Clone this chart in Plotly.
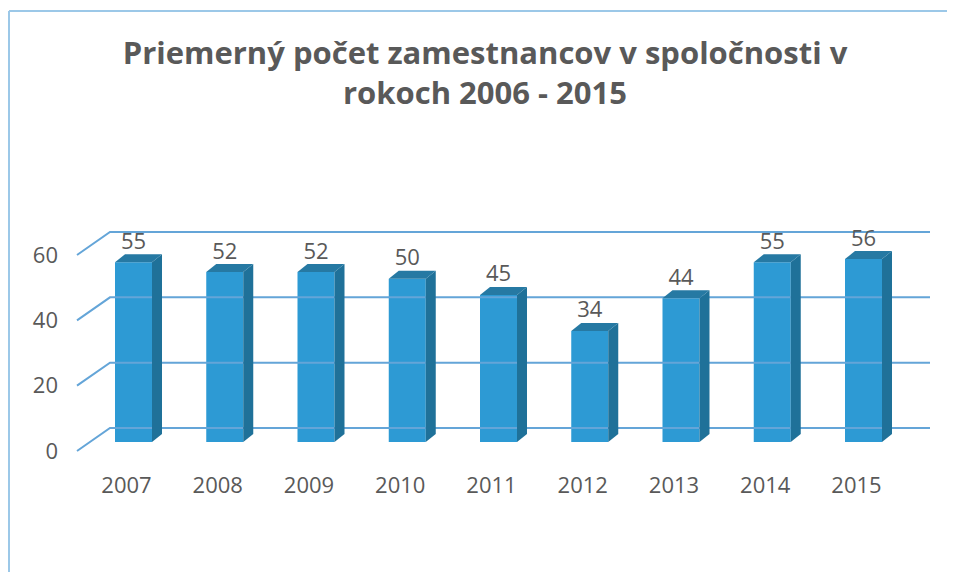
import plotly.graph_objects as go

# ---- data ----
years = ["2007", "2008", "2009", "2010", "2011", "2012", "2013", "2014", "2015"]
employees = [55, 52, 52, 50, 45, 34, 44, 55, 56]
y_ticks = [0, 20, 40, 60]
title_text = "Priemerný počet zamestnancov v spoločnosti v<br>rokoch 2006 - 2015"

# ---- pseudo-3D geometry ----
OFF = 8                          # page body margin
W, H = 955 - OFF, 580 - 2 * OFF  # figure size (no page overflow)
ML, MR, MT, MB = 62, 8, 192, 102
PW, PH = W - ML - MR, H - MT - MB
px_x = 91.25   # pixels per category
px_y = 3.267   # pixels per value unit
x0_px = 133.5 - OFF  # fig pixel of first category centre
y0_px = 451 - OFF    # fig pixel of value 0 on the front edge

xr_min = (ML - x0_px) / px_x
xr_max = (W - MR - x0_px) / px_x
yr_min = -(H - MB - y0_px) / px_y
yr_max = (y0_px - MT) / px_y

bar_w = 37 / px_x
bar_base = 9 / px_y
dx = 10 / px_x
dy = 8 / px_y
wall_dy = 23 / px_y
wall_left = (77 - OFF - x0_px) / px_x
wall_back = (110 - OFF - x0_px) / px_x
wall_right = (930 - OFF - x0_px) / px_x

FRONT = "#2D9AD4"
SIDE = "#1F7199"
TOP = "#2679A3"
GRID = "#64A5D8"
TXT = "#595959"
BORDER = "#9CC8E8"
FONT = "Open Sans"

xs = list(range(len(years)))
fig = go.Figure()

# gridlines (diagonal on the side wall + horizontal on back wall)
gx, gy = [], []
for t in y_ticks:
    gx += [wall_left, wall_back, wall_right, None]
    gy += [t, t + wall_dy, t + wall_dy, None]
fig.add_trace(go.Scatter(x=gx, y=gy, mode="lines", line=dict(color=GRID, width=2),
                         hoverinfo="skip", showlegend=False))

# front faces
fig.add_trace(go.Bar(x=xs, y=employees, base=bar_base, width=bar_w,
                     marker=dict(color=FRONT, line=dict(width=0)),
                     showlegend=False))

# side and top faces
for i, v in zip(xs, employees):
    xl = i - bar_w / 2
    xr = i + bar_w / 2
    top = bar_base + v
    fig.add_trace(go.Scatter(
        x=[xr, xr + dx, xr + dx, xr, xr],
        y=[bar_base, bar_base + dy, top + dy, top, bar_base],
        fill="toself", fillcolor=SIDE, mode="lines", line=dict(width=0, color=SIDE),
        hoverinfo="skip", showlegend=False))
    fig.add_trace(go.Scatter(
        x=[xl, xl + dx, xr + dx, xr, xl],
        y=[top, top + dy, top + dy, top, top],
        fill="toself", fillcolor=TOP, mode="lines", line=dict(width=0, color=TOP),
        hoverinfo="skip", showlegend=False))

# data labels
fig.add_trace(go.Scatter(
    x=xs, y=[bar_base + v + dy for v in employees], mode="text",
    text=[str(v) for v in employees], textposition="top center",
    textfont=dict(family=FONT, size=22, color=TXT),
    hoverinfo="skip", showlegend=False))

# chart-area border (left and top edges)
bx0 = -(ML - 1) / PW
bx1 = (W - ML) / PW
by_top = 1 + (MT - (11 - OFF)) / PH
by_bot = -(MB + 5) / PH
border = [
    dict(type="line", xref="paper", yref="paper", x0=bx0, x1=bx1, y0=by_top, y1=by_top),
    dict(type="line", xref="paper", yref="paper", x0=bx0, x1=bx0, y0=by_bot, y1=by_top),
]
for s in border:
    s["line"] = dict(color=BORDER, width=2)
    s["layer"] = "below"

fig.update_layout(
    width=W, height=H,
    margin=dict(l=ML, r=MR, t=MT, b=MB),
    paper_bgcolor="white", plot_bgcolor="white",
    title=dict(text=title_text, x=(485 - OFF) / W, xanchor="center",
               y=1 - (64 - OFF) / H, yanchor="top", yref="container",
               font=dict(family=FONT, size=31, color=TXT, weight="bold")),
    xaxis=dict(range=[xr_min, xr_max], tickmode="array", tickvals=xs, ticktext=years,
               showgrid=False, zeroline=False, showline=False, ticks="",
               ticklabelshift=-7,
               tickfont=dict(family=FONT, size=22, color=TXT)),
    yaxis=dict(range=[yr_min, yr_max], tickmode="array", tickvals=y_ticks,
               showgrid=False, zeroline=False, showline=False, ticks="",
               ticklabelstandoff=11,
               tickfont=dict(family=FONT, size=22, color=TXT)),
    shapes=border,
)

fig.write_html("out.html")
